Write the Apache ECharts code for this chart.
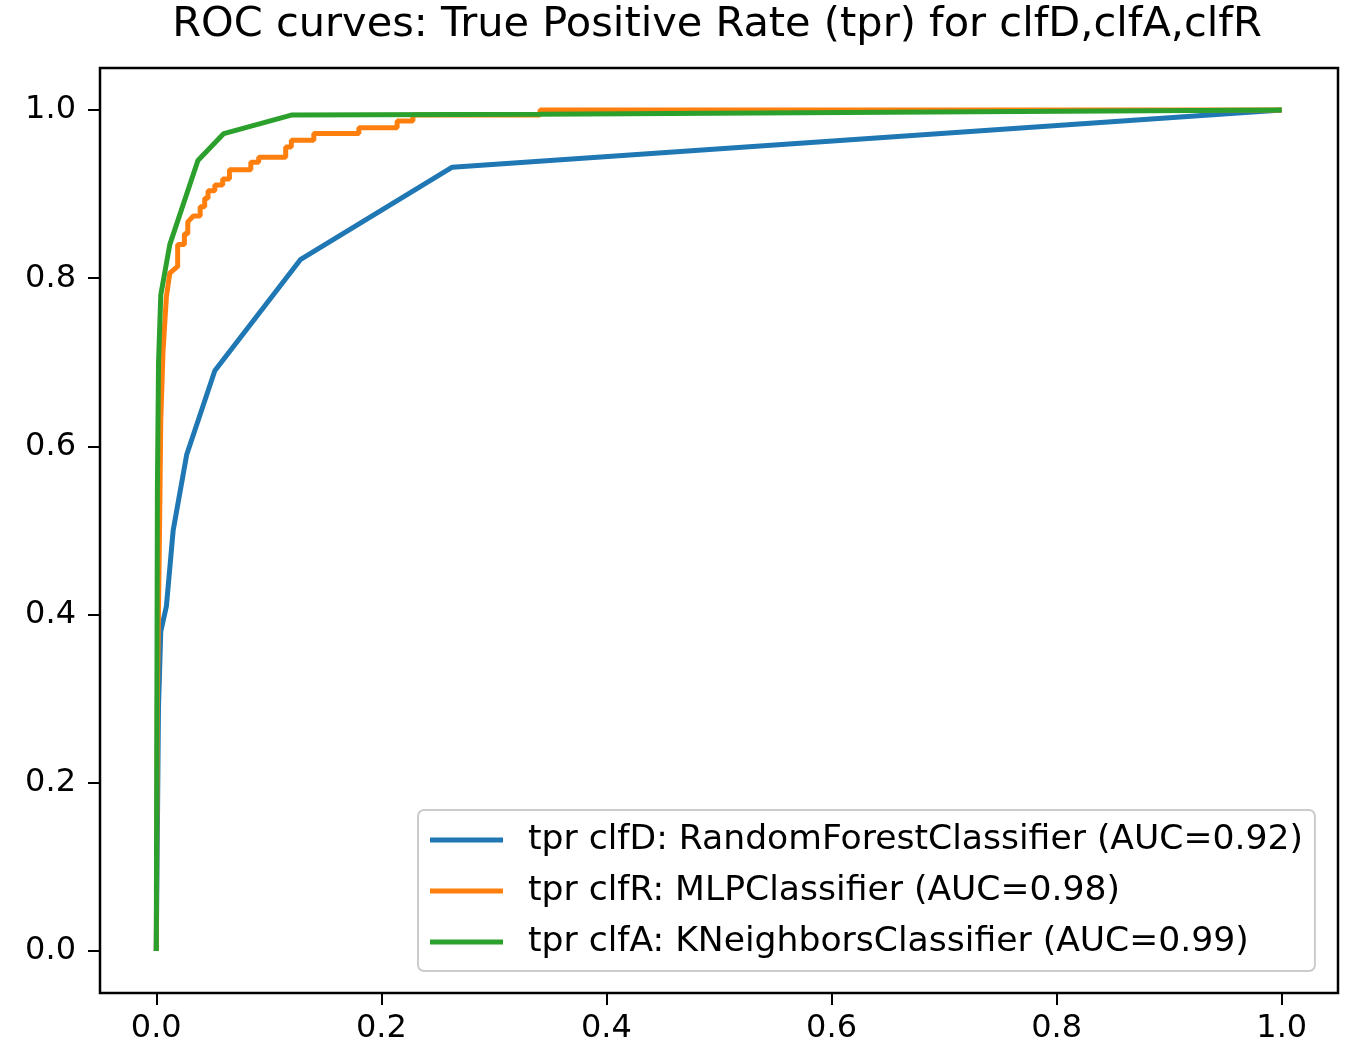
<!DOCTYPE html>
<html>
<head>
<meta charset="utf-8">
<script src="https://cdn.jsdelivr.net/npm/echarts@6/dist/echarts.min.js"></script>
<style>
  html, body { margin: 0; padding: 0; background: #fff; }
  #chart { width: 1345px; height: 1055px; }
</style>
</head>
<body>
<div id="chart"></div>
<script>
// ROC curves (fpr on x, tpr on y)
const fprD = [0, 0.002, 0.004, 0.009, 0.015, 0.027, 0.052, 0.128, 0.263, 1];
const tprD = [0, 0.29, 0.38, 0.41, 0.50, 0.59, 0.69, 0.822, 0.932, 1];

const fprR = [0, 0.001, 0.003, 0.004, 0.006, 0.009, 0.012, 0.019, 0.019, 0.025, 0.025, 0.028, 0.028,
  0.033, 0.039, 0.039, 0.043, 0.043, 0.046, 0.046, 0.052, 0.052, 0.059, 0.059, 0.065, 0.065,
  0.084, 0.084, 0.091, 0.091, 0.115, 0.115, 0.12, 0.12, 0.14, 0.14, 0.18, 0.18, 0.214, 0.214,
  0.228, 0.228, 0.341, 0.341, 1];
const tprR = [0, 0.30, 0.512, 0.63, 0.713, 0.778, 0.806, 0.814, 0.84, 0.84, 0.853, 0.853, 0.867,
  0.874, 0.874, 0.885, 0.885, 0.895, 0.895, 0.904, 0.904, 0.911, 0.911, 0.918, 0.918, 0.929,
  0.929, 0.938, 0.938, 0.944, 0.944, 0.956, 0.956, 0.964, 0.964, 0.972, 0.972, 0.979, 0.979, 0.987,
  0.987, 0.994, 0.994, 1, 1];

const fprA = [0, 0.001, 0.002, 0.004, 0.012, 0.037, 0.06, 0.12, 0.34, 1];
const tprA = [0, 0.55, 0.70, 0.78, 0.84, 0.94, 0.972, 0.994, 0.995, 1];

const seriesNames = [
  'tpr clfD: RandomForestClassifier (AUC=0.92)',
  'tpr clfR: MLPClassifier (AUC=0.98)',
  'tpr clfA: KNeighborsClassifier (AUC=0.99)'
];
const tickValues = [0, 0.2, 0.4, 0.6, 0.8, 1.0];

const colors = ['#1f77b4', '#ff7f0e', '#2ca02c'];
const font = 'DejaVu Sans';

const zip = (xs, ys) => xs.map((x, i) => [x, ys[i]]);

const axisCommon = {
  type: 'value',
  min: -0.05,
  max: 1.05,
  splitLine: { show: false },
  axisLine: { show: false, onZero: false },
  axisTick: {
    show: true,
    inside: false,
    customValues: tickValues,
    length: 12,
    lineStyle: { color: '#000', width: 2 }
  },
  axisLabel: {
    customValues: tickValues,
    formatter: v => v.toFixed(1),
    color: '#000',
    fontFamily: font,
    fontSize: 32
  }
};

const chart = echarts.init(document.getElementById('chart'), null, { renderer: 'canvas' });

chart.setOption({
  animation: false,
  backgroundColor: '#fff',
  graphic: [{
    type: 'text',
    x: 717,
    y: 4,
    style: {
      text: 'ROC curves: True Positive Rate (tpr) for clfD,clfA,clfR',
      fontFamily: font,
      fontSize: 41.5,
      fill: '#000',
      textAlign: 'center',
      textVerticalAlign: 'top'
    }
  }],
  grid: {
    left: 100,
    top: 68,
    right: 7,
    bottom: 62,
    show: true,
    borderColor: '#000',
    borderWidth: 2.5,
    backgroundColor: 'transparent'
  },
  xAxis: Object.assign({}, axisCommon, {
    position: 'bottom',
    axisLabel: Object.assign({}, axisCommon.axisLabel, { margin: 20 })
  }),
  yAxis: Object.assign({}, axisCommon, {
    position: 'left',
    axisLabel: Object.assign({}, axisCommon.axisLabel, { margin: 24 })
  }),
  legend: {
    orient: 'vertical',
    left: 418,
    top: 810,
    icon: 'rect',
    itemWidth: 73,
    itemHeight: 5,
    itemGap: 13,
    padding: [11, 12, 10, 12],
    borderColor: '#cccccc',
    borderWidth: 2,
    borderRadius: 6,
    backgroundColor: 'rgba(255,255,255,0.8)',
    data: seriesNames,
    textStyle: {
      color: '#000',
      fontFamily: font,
      fontSize: 34.6,
      lineHeight: 38,
      padding: [0, 0, 0, 20]
    }
  },
  series: [
    { name: seriesNames[0], data: zip(fprD, tprD), color: colors[0] },
    { name: seriesNames[1], data: zip(fprR, tprR), color: colors[1] },
    { name: seriesNames[2], data: zip(fprA, tprA), color: colors[2] }
  ].map(s => Object.assign({
    type: 'line',
    symbol: 'none',
    lineStyle: { width: 5, color: s.color },
    itemStyle: { color: s.color },
    emphasis: { disabled: true }
  }, s))
});
</script>
</body>
</html>
